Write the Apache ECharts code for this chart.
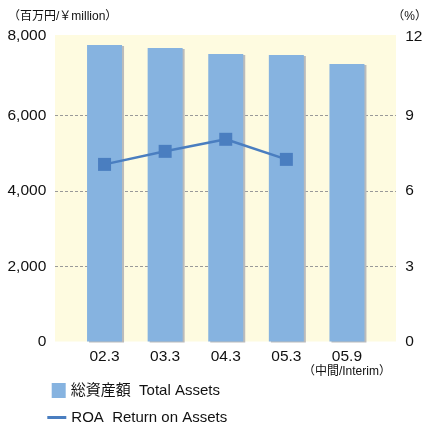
<!DOCTYPE html>
<html lang="ja">
<head>
  <meta charset="UTF-8">
  <title>Total Assets / ROA</title>
  <script src="https://cdn.jsdelivr.net/npm/echarts@6/dist/echarts.min.js"></script>
  <style>
    html, body { margin: 0; padding: 0; background: #fff; }
    #chart { width: 428px; height: 422px; }
  </style>
</head>
<body>
<div id="chart"></div>
<script>
  // 期間
  const periods = ['02.3', '03.3', '04.3', '05.3', '05.9'];
  // 総資産額（百万円）
  const totalAssets = [7880, 7800, 7640, 7610, 7370];
  // ROA (%)
  const roa = [7.06, 7.58, 8.06, 7.26];

  const FONT = '"Liberation Sans", "Noto Sans CJK JP", sans-serif';
  const TXT = '#111';
  const BAR_NAME = '総資産額  Total Assets';
  const LINE_NAME = 'ROA  Return on Assets';

  const chart = echarts.init(document.getElementById('chart'));

  const option = {
    textStyle: { fontFamily: FONT },
    animation: false,
    graphic: [
      // 薄い黄色の背景
      { type: 'rect', z: -10, shape: { x: 55, y: 35, width: 341, height: 306.6 }, style: { fill: '#fefbe0' } },
      { type: 'text', left: 8, top: 11, style: { text: '（百万円/￥million）', fontSize: 12, fill: TXT, fontFamily: FONT } },
      { type: 'text', right: 1, top: 11, style: { text: '（%）', fontSize: 12, fill: TXT, fontFamily: FONT } }
    ],
    grid: [
      { left: 55, right: 32, top: 40.4, bottom: 80.4 },
      { left: 74.25, right: 50.75, top: 40.4, bottom: 80.4 }
    ],
    legend: [
      {
        data: [BAR_NAME], left: 46.7, top: 378, icon: 'rect',
        itemWidth: 14, itemHeight: 15,
        itemStyle: { shadowColor: 'transparent', shadowOffsetX: 0, shadowOffsetY: 0 },
        textStyle: { fontSize: 15, color: TXT, fontFamily: FONT }
      },
      {
        data: [LINE_NAME], left: 42.3, top: 405, icon: 'rect',
        itemWidth: 19, itemHeight: 3,
        textStyle: { fontSize: 15, color: TXT, fontFamily: FONT }
      }
    ],
    xAxis: [
      { gridIndex: 0, type: 'value', min: 0, max: 1, show: false },
      {
        gridIndex: 1, type: 'category', data: periods,
        axisLine: { show: false }, axisTick: { show: false },
        axisLabel: {
          interval: 0, margin: 7, fontSize: 15.5, color: TXT, fontFamily: FONT,
          lineHeight: 16,
          formatter: v => v === '05.9' ? v + '\n{s|（中間/Interim）}' : v,
          rich: { s: { fontSize: 12, color: TXT, fontFamily: FONT, lineHeight: 15 } }
        }
      }
    ],
    yAxis: [
      {
        gridIndex: 0, type: 'value', min: 0, max: 8000, interval: 2000,
        axisLine: { show: false }, axisTick: { show: false }, axisLabel: { show: false },
        splitLine: { show: true, showMinLine: false, showMaxLine: false, lineStyle: { color: '#999', type: [3, 2], width: 1 } }
      },
      {
        gridIndex: 1, type: 'value', min: 0, max: 8000, interval: 2000,
        axisLine: { show: false }, axisTick: { show: false }, splitLine: { show: false },
        axisLabel: {
          margin: 28, fontSize: 15.5, color: TXT, fontFamily: FONT,
          formatter: v => v === 8000 ? '{t|8,000}' : v.toLocaleString('en-US'),
          rich: { t: { fontSize: 15.5, color: TXT, fontFamily: FONT, padding: [0, 0, 10, 0] } }
        }
      },
      {
        gridIndex: 1, type: 'value', position: 'right', min: 0, max: 12, interval: 3,
        axisLine: { show: false }, axisTick: { show: false }, splitLine: { show: false },
        axisLabel: {
          margin: 28, fontSize: 15.5, color: TXT, fontFamily: FONT,
          formatter: v => v === 12 ? '{t|12}' : String(v),
          rich: { t: { fontSize: 15.5, color: TXT, fontFamily: FONT, padding: [0, 0, 7, 0] } }
        }
      }
    ],
    series: [
      {
        name: BAR_NAME, type: 'bar', xAxisIndex: 1, yAxisIndex: 1,
        data: totalAssets, barWidth: 35,
        itemStyle: { color: '#86b3e0', shadowColor: '#bbbbbb', shadowOffsetX: 2, shadowOffsetY: 1, shadowBlur: 0 }
      },
      {
        name: LINE_NAME, type: 'line', xAxisIndex: 1, yAxisIndex: 2,
        data: roa, symbol: 'rect', symbolSize: 13,
        itemStyle: { color: '#4a7ec0' },
        lineStyle: { color: '#4a7ec0', width: 2.5 }
      }
    ]
  };

  chart.setOption(option);
</script>
</body>
</html>
